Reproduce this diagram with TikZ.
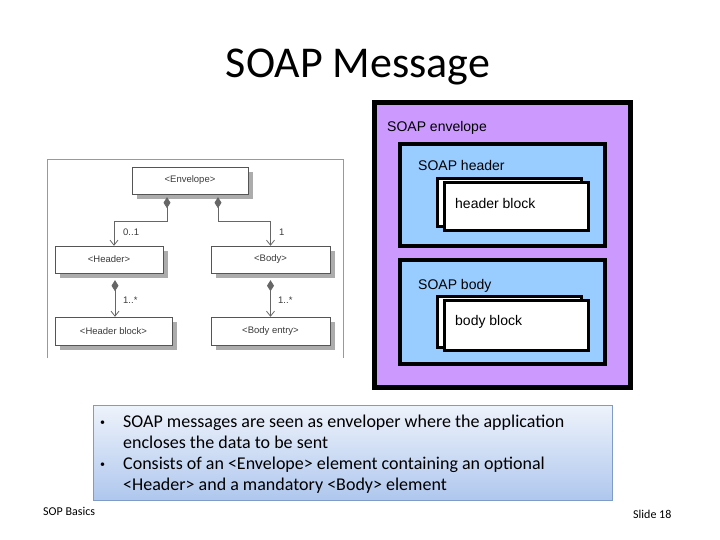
\documentclass[tikz,border=0pt]{standalone}
\usepackage{fontspec}
\setmainfont{Carlito}
\newfontfamily\arialfont{Liberation Sans}
\usetikzlibrary{arrows.meta,shadows}
\definecolor{envpurple}{HTML}{CC99FF}
\definecolor{partblue}{HTML}{99CCFF}
\definecolor{notetop}{HTML}{EEF3FB}
\definecolor{notebottom}{HTML}{AFC7EE}
\definecolor{noteedge}{HTML}{7F9CC8}
\definecolor{umlgray}{HTML}{555555}

\tikzset{
  umlbox/.style={draw=umlgray,fill=white,inner sep=0pt,
    font=\arialfont\fontsize{9.5}{11}\selectfont,text=umlgray!70!black,
    drop shadow={shadow xshift=5pt,shadow yshift=-5pt,fill=gray!65,opacity=1}},
  compo/.style={draw=umlgray!90,line width=0.8pt,
    {Diamond[length=11pt,width=7pt]}-{Straight Barb[length=5pt,width=8pt]}},
  multlabel/.style={anchor=west,inner sep=0pt,text=umlgray!70!black,
    font=\arialfont\fontsize{9.5}{11}\selectfont},
  partbox/.style={draw=black,inner sep=0pt},
  partlabel/.style={anchor=west,inner sep=0pt,text=black,
    font=\arialfont\fontsize{14}{16}\selectfont},
  noteline/.style={anchor=base west,inner sep=0pt,
    font=\fontsize{18}{21}\selectfont},
  notebullet/.style={anchor=base west,inner sep=0pt,
    font=\fontsize{10}{12}\selectfont}
}

\begin{document}
\begin{tikzpicture}[x=1pt,y=-1pt]

\useasboundingbox[fill=white] (0,0) rectangle (720,540);

% Title
\node[anchor=base,inner sep=0pt,font=\fontsize{44}{50}\selectfont]
  (title) at (358,78) {SOAP Message};

% UML picture on the left
\draw[gray!80,line width=0.8pt]
  (47,358) -- (47,159) -- (343,159) -- (343,358);

\node[umlbox,minimum width=116,minimum height=27]
  (envelope) at (190,180.5) {<Envelope>};
\node[umlbox,minimum width=108,minimum height=27]
  (header) at (109,259.5) {<Header>};
\node[umlbox,minimum width=119,minimum height=27]
  (body) at (270.5,259.5) {<Body>};
\node[umlbox,minimum width=117,minimum height=28]
  (headerblock) at (113.5,331) {<Header block>};
\node[umlbox,minimum width=119,minimum height=28]
  (bodyentry) at (270.5,331) {<Body entry>};

% Composition links
\draw[compo]
  ([xshift=-23pt,yshift=-3pt]envelope.south) -- ++(0,24) -| ([xshift=5pt]header.north);
\draw[compo]
  ([xshift=28pt,yshift=-3pt]envelope.south) -- ++(0,24) -| (body.north);
\draw[compo]
  ([xshift=6pt,yshift=-7pt]header.south) coordinate (hdtail) -- (hdtail |- headerblock.north);
\draw[compo]
  ([yshift=-7pt]body.south) coordinate (bdtail) -- (bdtail |- bodyentry.north);

% Multiplicities
\node[multlabel] (hdmult) at (123,232) {0..1};
\node[multlabel] (bdmult) at (279,232) {1};
\node[multlabel] (hbmult) at (123,300) {1..*};
\node[multlabel] (bemult) at (278,300) {1..*};

% Nested boxes on the right
\node[partbox,fill=envpurple,line width=5pt,minimum width=256,minimum height=285]
  (envbox) at (502.5,245) {};
\node[partbox,fill=partblue,line width=4pt,minimum width=205,minimum height=102]
  (headerbox) at (502.5,195) {};
\node[partbox,fill=partblue,line width=4pt,minimum width=205,minimum height=104]
  (bodybox) at (502.5,312) {};
\node[partbox,fill=white,line width=3pt,minimum width=144,minimum height=48]
  (hblockback) at (509.5,202.5) {};
\node[partbox,fill=white,line width=3pt,minimum width=144,minimum height=48]
  (hblock) at (516.5,206.5) {};
\node[partbox,fill=white,line width=3pt,minimum width=144,minimum height=51]
  (bblockback) at (509.5,322) {};
\node[partbox,fill=white,line width=3pt,minimum width=144,minimum height=50]
  (bblock) at (516.5,325.5) {};

\node[partlabel] (envlabel) at (387,128) {SOAP envelope};
\node[partlabel] (headerlabel) at (418,165) {SOAP header};
\node[partlabel] (hblocklabel) at (455,203) {header block};
\node[partlabel] (bodylabel) at (418,286) {SOAP body};
\node[partlabel] (bblocklabel) at (455,322) {body block};

% Note with the two bullets
\node[draw=noteedge,line width=0.8pt,top color=notetop,bottom color=notebottom,
  minimum width=519,minimum height=95,inner sep=0pt]
  (note) at (352.5,452.5) {};

\node[notebullet] (bulletone) at (100,425) {\textbullet};
\node[noteline] (lineone) at (123,427) {SOAP messages are seen as enveloper where the application};
\node[noteline] (linetwo) at (123,448) {encloses the data to be sent};
\node[notebullet] (bullettwo) at (100,467) {\textbullet};
\node[noteline] (linethree) at (123,469) {Consists of an <Envelope> element containing an optional};
\node[noteline] (linefour) at (123,490) {<Header> and a mandatory <Body> element};

% Footer
\node[anchor=base west,inner sep=0pt,font=\fontsize{12}{14}\selectfont]
  (footer) at (43,515) {SOP Basics};
\node[anchor=base west,inner sep=0pt,font=\fontsize{12}{14}\selectfont]
  (slideno) at (633,518) {Slide 18};

\end{tikzpicture}
\end{document}
